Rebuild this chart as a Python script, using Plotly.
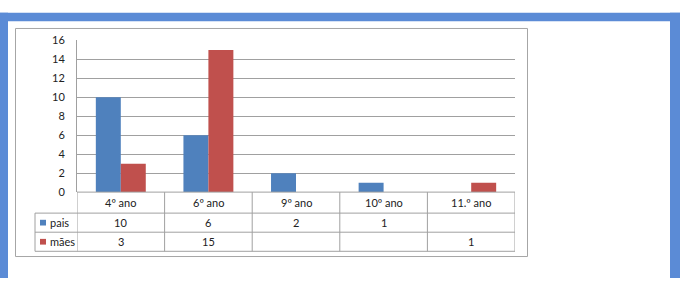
import plotly.graph_objects as go

categories = ["4º ano", "6º ano", "9º ano", "10º ano", "11.º ano"]
series_names = ["pais", "mães"]
pais = [10, 6, 2, 1, None]
maes = [3, 15, None, None, 1]
y_ticks = [0, 2, 4, 6, 8, 10, 12, 14, 16]

W, H = 681, 284
BLUE = "#4F81BD"
RED = "#C0504D"
FRAME = "#5B8BD6"
GRID = "#A0A0A0"
FONT = "Lato, Calibri, sans-serif"


def px(x):
    return x / W


def py(y):
    return 1 - y / H


fig = go.Figure()
fig.add_trace(go.Bar(x=categories, y=pais, name=series_names[0], marker=dict(color=BLUE, line=dict(width=0))))
fig.add_trace(go.Bar(x=categories, y=maes, name=series_names[1], marker=dict(color=RED, line=dict(width=0))))

shapes = []
# blue outer frame
shapes.append(dict(type="rect", xref="paper", yref="paper", x0=px(0), x1=px(680), y0=py(15), y1=py(6),
                   fillcolor=FRAME, line=dict(width=0), layer="above"))
shapes.append(dict(type="rect", xref="paper", yref="paper", x0=px(0), x1=px(8), y0=py(284), y1=py(6),
                   fillcolor=FRAME, line=dict(width=0), layer="above"))
shapes.append(dict(type="rect", xref="paper", yref="paper", x0=px(670), x1=px(680), y0=py(284), y1=py(6),
                   fillcolor=FRAME, line=dict(width=0), layer="above"))
# gray chart box
shapes.append(dict(type="rect", xref="paper", yref="paper", x0=px(15.5), x1=px(527.5), y0=py(261.5), y1=py(22.5),
                   line=dict(color="#A6A6A6", width=1), fillcolor="rgba(0,0,0,0)", layer="below"))

# data table lines
row_tops = [194, 216, 236, 256]
x_left_legend = px(35)
x_right = px(515)
for i, yy in enumerate(row_tops):
    x0 = px(77) if i == 0 else x_left_legend
    shapes.append(dict(type="line", xref="paper", yref="paper", x0=x0, x1=x_right, y0=py(yy), y1=py(yy),
                       line=dict(color=GRID, width=1), layer="above"))
shapes.append(dict(type="line", xref="paper", yref="paper", x0=x_left_legend, x1=x_left_legend,
                   y0=py(256), y1=py(216), line=dict(color=GRID, width=1)))
for k in range(len(categories) + 1):
    shapes.append(dict(type="line", xref="x", yref="paper", x0=k - 0.5, x1=k - 0.5,
                       y0=py(256), y1=py(194), line=dict(color=GRID, width=1)))
# legend keys
for idx, col in enumerate([BLUE, RED]):
    yc = 226 + 20 * idx
    shapes.append(dict(type="rect", xref="paper", yref="paper", x0=px(40), x1=px(46), y0=py(yc + 3), y1=py(yc - 3),
                       fillcolor=col, line=dict(width=0)))

annotations = []
for c in categories:
    annotations.append(dict(x=c, y=py(205), xref="x", yref="paper", text=c, showarrow=False,
                            font=dict(family=FONT, size=11, color="#222"), xanchor="center", yanchor="middle"))
for r, (name, vals) in enumerate(zip(series_names, [pais, maes])):
    yc = 226 + 20 * r
    annotations.append(dict(x=px(48), y=py(yc), xref="paper", yref="paper", text=name, showarrow=False,
                            font=dict(family=FONT, size=11, color="#222"), xanchor="left", yanchor="middle"))
    for c, v in zip(categories, vals):
        if v is None:
            continue
        annotations.append(dict(x=c, y=py(yc), xref="x", yref="paper", text=str(v), showarrow=False,
                                font=dict(family=FONT, size=11, color="#222"), xanchor="center", yanchor="middle"))

fig.update_layout(
    width=W, height=H,
    margin=dict(l=0, r=0, t=0, b=0),
    paper_bgcolor="white", plot_bgcolor="white",
    barmode="group", bargap=0.43, bargroupgap=0,
    showlegend=False,
    shapes=shapes, annotations=annotations,
    xaxis=dict(domain=[px(77), px(515)], range=[-0.5, 4.5], showticklabels=False, showgrid=False,
               zeroline=False, showline=False, ticks=""),
    yaxis=dict(domain=[py(194), py(35)], range=[0, 16], tickvals=y_ticks, showgrid=True, gridcolor=GRID,
               gridwidth=1, zeroline=False, showline=True, linecolor=GRID, linewidth=1, ticks="",
               ticklabelstandoff=9, tickfont=dict(family=FONT, size=11, color="#222")),
)

fig.write_html("out.html")
